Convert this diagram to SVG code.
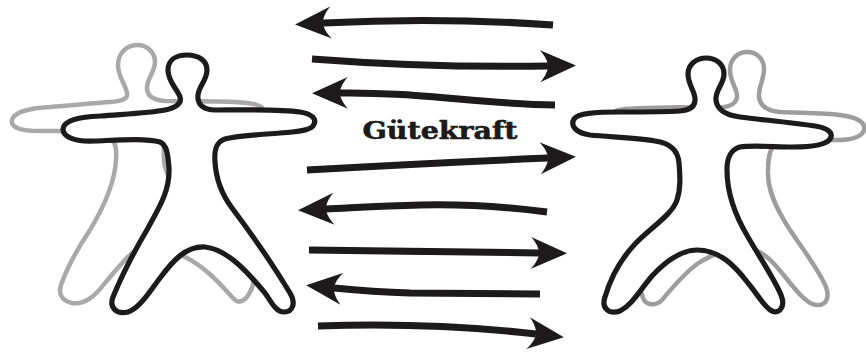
<svg xmlns="http://www.w3.org/2000/svg" width="866" height="352" viewBox="0 0 866 352">
  <style>
    .shadow { fill: none; stroke-width: 4.5; stroke-linejoin: round; }
    .body { fill: #ffffff; stroke: #1c1a1a; stroke-width: 5.2; stroke-linejoin: round; }
    .shaft { fill: none; stroke: #1c1a1a; stroke-width: 7; stroke-linecap: butt; marker-end: url(#head); }
    .label { font-family: "DejaVu Serif", "Liberation Serif", serif; font-weight: bold; font-size: 23.5px; fill: #1c1a1a; stroke: #1c1a1a; stroke-width: 0.6; }
  </style>
  <defs>
    <!-- barbed arrowhead, concave at the back -->
    <marker id="head" markerUnits="userSpaceOnUse" viewBox="0 0 37 33" markerWidth="37" markerHeight="33" refX="8" refY="16.5" orient="auto">
      <path d="M36,16.5 L0,0.5 C5,6 8,12 8,16.5 C8,21 5,27 0,32.5 Z" fill="#1c1a1a"/>
    </marker>
  </defs>

  <rect width="866" height="352" fill="#ffffff"/>

  <!-- left pair: grey figure behind, black figure in front -->
  <g id="left-shadow">
    <path class="shadow" stroke="#a9a9a9" d="M127,95 C128,88 118,78 118,65 C118,53 127,45 137,45 C148,45 155,53 155,62 C155,72 147,78 147,88 C147,96 153,100 165,101 C190,101 215,101 235,102 C252,103 265,105 262,111 C259,117 245,119 225,121 C200,123 180,124 172,128 C164,133 163,145 164,160 C166,190 205,220 238,250 C252,263 258,278 250,292 C246,300 240,304 235,300 C225,290 208,268 185,257 C172,250 160,240 148,242 C135,247 120,265 105,283 C95,296 85,305 72,303 C62,301 58,294 61,285 C68,265 80,245 90,230 C105,205 115,180 116,160 C117,148 116,140 105,135 C90,130 60,131 40,131 C22,131 10,128 12,120 C14,112 30,108 50,107 C75,105 95,103 110,102 C122,101 127,99 127,95 Z"/>
  </g>
  <g id="left-figure">
    <path class="body" d="M180,97 C178,90 168,82 168,70 C168,60 176,55 187,55 C199,55 207,61 207,70 C207,80 199,86 198,95 C197,104 203,110 215,110 C245,110 280,109 300,112 C312,114 318,119 313,126 C309,131 295,132 280,133 C255,135 235,136 225,139 C216,142 214,150 215,162 C216,178 220,192 232,208 C250,232 275,268 290,293 C296,303 293,312 284,312 C276,312 272,303 265,293 C250,275 228,249 205,247 C185,246 172,262 160,278 C150,291 140,308 128,312 C116,315 109,307 113,297 C122,275 135,250 148,228 C160,206 170,190 169,168 C168,155 167,145 160,142 C145,138 120,140 95,141 C75,142 63,137 63,129 C64,120 80,117 100,116 C125,114 150,113 165,110 C176,108 182,103 180,97 Z"/>
  </g>

  <!-- right pair -->
  <g id="right-shadow">
    <path class="shadow" stroke="#9d9d9d" d="M737,97 C738,90 730,82 730,70 C730,59 738,52 747,52 C757,52 764,59 764,69 C764,80 758,88 759,97 C760,106 768,111 780,112 C800,113 825,113 840,115 C856,117 866,122 864,130 C862,137 850,140 835,140 C810,140 785,141 775,145 C769,149 768,160 768,173 C768,190 775,207 790,230 C805,252 820,272 826,287 C830,298 826,306 816,305 C808,304 800,295 790,283 C778,268 765,250 748,248 C730,246 712,255 700,262 C685,272 672,288 662,300 C656,306 646,306 643,298 C638,285 638,268 648,250 C665,225 695,195 698,165 C699,148 690,132 670,128 C650,126 625,125 615,121 C608,117 612,110 625,109 C650,107 690,107 710,108 C728,108 736,105 737,97 Z"/>
  </g>
  <g id="right-figure">
    <path class="body" d="M695,100 C696,93 688,85 688,74 C688,64 697,58 706,58 C716,58 724,64 724,74 C724,84 715,90 716,100 C717,110 725,115 740,117 C765,120 795,123 815,126 C828,128 834,133 830,139 C826,145 810,147 793,147 C775,147 752,145 740,147 C730,150 727,158 727,170 C727,190 733,212 748,237 C760,258 775,280 781,295 C786,307 779,314 772,311 C765,308 758,295 748,283 C735,266 720,250 697,250 C680,250 665,262 652,276 C640,290 632,305 620,311 C609,315 601,308 605,297 C610,280 620,260 635,244 C650,228 672,215 677,200 C681,188 680,175 679,163 C678,150 670,143 655,141 C635,138 610,137 590,135 C576,133 570,126 574,119 C578,113 595,112 620,112 C645,112 665,112 680,111 C692,110 695,105 695,100 Z"/>
  </g>

  <!-- force arrows exchanged between the two figures -->
  <g id="connectors">
    <path class="shaft" d="M553,25 Q440,17 323,23"/>
    <path class="shaft" d="M312,59 Q430,68 548,66"/>
    <path class="shaft" d="M555,105 C480,104 420,92 340,93"/>
    <path class="shaft" d="M307,170 Q430,163 548,158"/>
    <path class="shaft" d="M547,212 C500,206 460,204 420,205 C380,206 350,208 326,209"/>
    <path class="shaft" d="M309,250 L539,253"/>
    <path class="shaft" d="M540,294 L410,293 C380,292 355,290 334,288"/>
    <path class="shaft" d="M318,326 Q430,322 536,334"/>
  </g>

  <g id="label">
    <text class="label" x="440" y="139" text-anchor="middle" textLength="155" lengthAdjust="spacingAndGlyphs">Gütekraft</text>
  </g>
</svg>
